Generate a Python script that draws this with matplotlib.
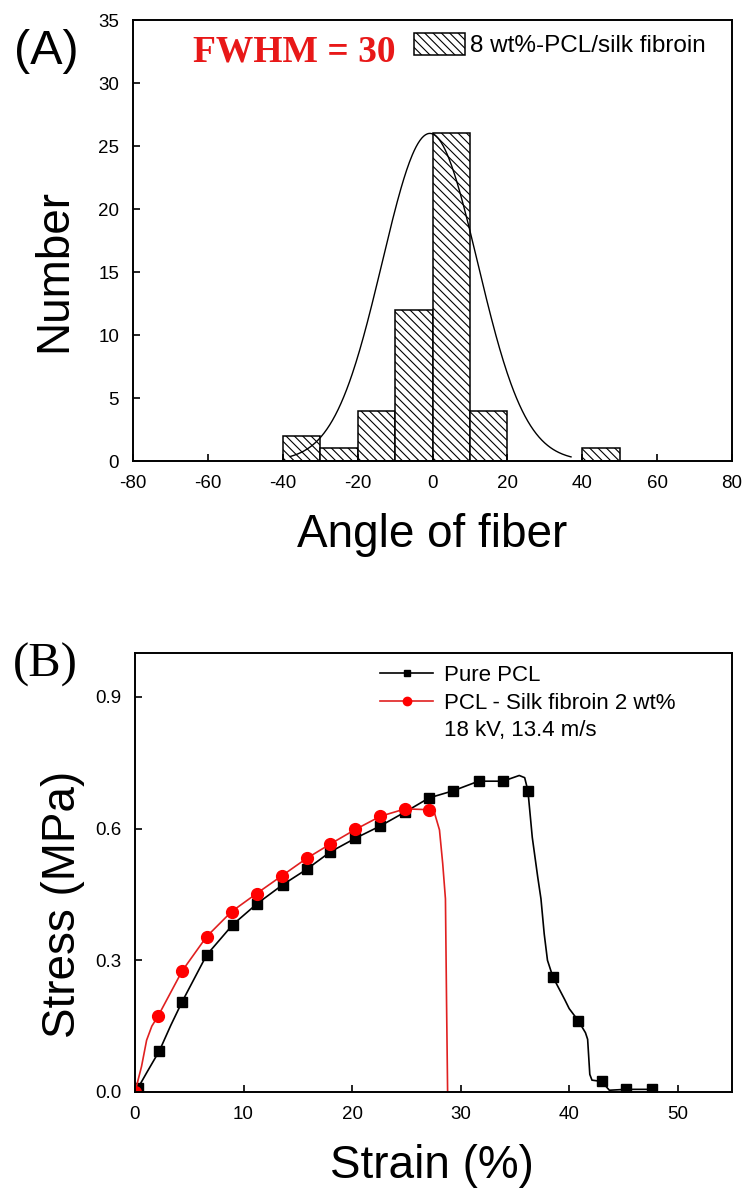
import numpy as np
import matplotlib
matplotlib.use("Agg")
import matplotlib.pyplot as plt
from matplotlib.lines import Line2D

plt.rcParams['font.family'] = ['Liberation Sans', 'DejaVu Sans']
plt.rcParams['hatch.linewidth'] = 0.8
plt.rcParams['axes.unicode_minus'] = False

# ---- (A) fiber angle histogram ----
bin_left = [-40, -30, -20, -10, 0, 10, 40]
bin_count = [2, 1, 4, 12, 26, 4, 1]
BIN_WIDTH = 10

# gaussian fit of the angle distribution
fit_center = -0.7
fit_height = 26
fit_fwhm = 30
fit_range = (-38, 37)

# ---- (B) stress-strain curves ----
# Pure PCL: symbol positions and extra trace points between them
pcl_mark_x = [0.25, 2.25, 4.35, 6.6, 9.0, 11.25, 13.6, 15.8, 18.0, 20.3, 22.6, 24.9,
              27.1, 29.3, 31.65, 33.9, 36.2, 38.5, 40.85, 43.0, 45.2, 47.6]
pcl_mark_y = [0.008, 0.094, 0.206, 0.312, 0.381, 0.429, 0.472, 0.507, 0.547, 0.578, 0.606, 0.638,
              0.670, 0.686, 0.708, 0.708, 0.686, 0.262, 0.162, 0.024, 0.006, 0.006]
pcl_trace_x = [0.0, 1.1, 3.3, 35.4, 35.9, 36.6, 37.1, 37.4, 37.7, 38.0,
               39.6, 40.0, 41.5, 41.7, 41.9, 42.1, 43.7]
pcl_trace_y = [0.0, 0.045, 0.152, 0.721, 0.716, 0.58, 0.49, 0.44, 0.36, 0.30,
               0.21, 0.19, 0.135, 0.12, 0.04, 0.027, 0.004]

# PCL - silk fibroin 2 wt%
psf_mark_x = [0.0, 2.15, 4.35, 6.6, 8.9, 11.2, 13.5, 15.8, 18.0, 20.3, 22.6, 24.9, 27.1]
psf_mark_y = [0.0, 0.174, 0.276, 0.354, 0.411, 0.452, 0.492, 0.532, 0.565, 0.598, 0.628, 0.645, 0.643]
psf_trace_x = [0.6, 1.07, 1.55, 27.6, 28.05, 28.35, 28.6, 28.7, 28.8]
psf_trace_y = [0.058, 0.118, 0.150, 0.635, 0.597, 0.52, 0.44, 0.21, 0.0]


def merged(mx, my, tx, ty):
    x = np.concatenate([mx, tx])
    y = np.concatenate([my, ty])
    order = np.argsort(x, kind="stable")
    return x[order], y[order]


W, H = 742, 1193
fig = plt.figure(figsize=(W / 100, H / 100), dpi=100)

label_size = 33


def style_axes(ax):
    for sp in ax.spines.values():
        sp.set_linewidth(1.4)
    ax.tick_params(direction="in", length=5, width=1.2, top=False, right=False,
                   labelsize=13.5)
    ax.tick_params(axis="y", pad=10)
    ax.tick_params(axis="x", pad=10)


# ---------- panel A ----------
axA = fig.add_axes([133 / W, 1 - 461 / H, (732 - 133) / W, (461 - 20) / H])
bars = axA.bar(bin_left, bin_count, width=BIN_WIDTH, align="edge",
               facecolor="white", edgecolor="black", hatch="\\\\\\\\", linewidth=1.1,
               label="8 wt%-PCL/silk fibroin")

sigma = fit_fwhm / (2 * np.sqrt(2 * np.log(2)))
gx = np.linspace(fit_range[0], fit_range[1], 300)
gy = fit_height * np.exp(-(gx - fit_center) ** 2 / (2 * sigma ** 2))
axA.plot(gx, gy, color="black", linewidth=1.0)

axA.set_xlim(-80, 80)
axA.set_ylim(0, 35)
axA.set_xticks(np.arange(-80, 81, 20))
axA.set_yticks(np.arange(0, 36, 5))
style_axes(axA)

axA.legend(handles=[bars], loc="center left", bbox_to_anchor=(414 / W, 1 - 45 / H),
           bbox_transform=fig.transFigure, frameon=False, fontsize=17.5,
           handlelength=2.1, handleheight=1.0, handletextpad=0.2,
           borderpad=0, borderaxespad=0)

fig.text(193 / W, 1 - 62 / H, "FWHM = 30", color="#e81818", fontsize=27,
         fontweight="bold", family=["Liberation Serif", "DejaVu Serif"],
         ha="left", va="baseline")
fig.text(46 / W, 1 - 52 / H, "(A)", fontsize=35, ha="center", va="center")
fig.text(54 / W, 1 - 270 / H, "Number", fontsize=label_size, rotation=90,
         ha="center", va="center")
fig.text(432 / W, 1 - 547 / H, "Angle of fiber", fontsize=label_size,
         ha="center", va="baseline")

# ---------- panel B ----------
axB = fig.add_axes([135 / W, 1 - 1092 / H, (732 - 135) / W, (1092 - 653) / H])

px, py = merged(pcl_mark_x, pcl_mark_y, pcl_trace_x, pcl_trace_y)
sx, sy = merged(psf_mark_x, psf_mark_y, psf_trace_x, psf_trace_y)

axB.plot(px, py, color="black", linewidth=1.2)
axB.plot(pcl_mark_x, pcl_mark_y, linestyle="none", marker="s", markersize=7.5,
         color="black")
axB.plot(sx, sy, color="#e02020", linewidth=1.2)
axB.plot(psf_mark_x, psf_mark_y, linestyle="none", marker="o", markersize=8.5,
         color="#ff0000")

axB.set_xlim(0, 55)
axB.set_ylim(0, 1.0)
axB.set_xticks(np.arange(0, 51, 10))
axB.set_yticks([0.0, 0.3, 0.6, 0.9])
axB.yaxis.set_major_formatter(matplotlib.ticker.FormatStrFormatter("%.1f"))
style_axes(axB)

handles = [
    Line2D([], [], color="black", linewidth=1.2, marker="s", markersize=5),
    Line2D([], [], color="#e02020", linewidth=1.2, marker="o", markerfacecolor="#ff0000",
           markeredgecolor="#ff0000", markersize=6),
    Line2D([], [], linestyle="none"),
]
labels = ["Pure PCL", "PCL - Silk fibroin 2 wt%", "18 kV, 13.4 m/s"]
axB.legend(handles, labels, loc="upper left", bbox_to_anchor=(380 / W, 1 - 665 / H),
           bbox_transform=fig.transFigure, frameon=False, fontsize=16,
           handlelength=2.4, handletextpad=0.5, labelspacing=0.3,
           borderpad=0, borderaxespad=0)

fig.text(45 / W, 1 - 665 / H, "(B)", fontsize=35, family=["Liberation Serif", "DejaVu Serif"],
         ha="center", va="center")
fig.text(63 / W, 1 - 904 / H, "Stress (MPa)", fontsize=label_size, rotation=90,
         ha="center", va="center")
fig.text(432 / W, 1 - 1178 / H, "Strain (%)", fontsize=label_size,
         ha="center", va="baseline")

fig.savefig("out.png", dpi=100)
